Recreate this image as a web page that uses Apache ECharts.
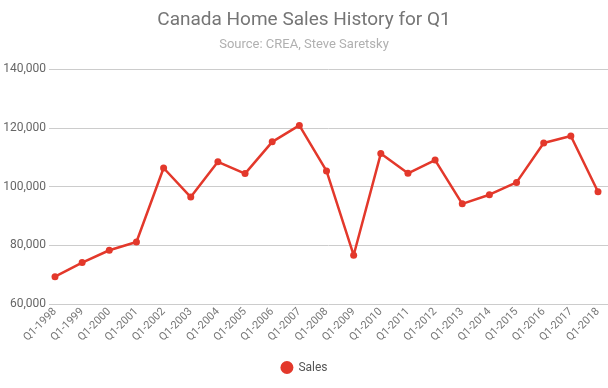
<!DOCTYPE html>
<html>
<head>
<meta charset="utf-8">
<script src="https://cdn.jsdelivr.net/npm/echarts@6/dist/echarts.min.js"></script>
<style>html,body{margin:0;padding:0;background:#fff}#c{width:608px;height:388px}</style>
</head>
<body>
<div id="c"></div>
<script>
const categories = ['Q1-1998','Q1-1999','Q1-2000','Q1-2001','Q1-2002','Q1-2003','Q1-2004','Q1-2005','Q1-2006','Q1-2007','Q1-2008','Q1-2009','Q1-2010','Q1-2011','Q1-2012','Q1-2013','Q1-2014','Q1-2015','Q1-2016','Q1-2017','Q1-2018'];
const sales = [69300,74100,78300,81100,106300,96400,108400,104400,115200,120800,105300,76600,111200,104500,109000,94100,97200,101400,114800,117200,98200];
const yTicks = [60000,80000,100000,120000,140000];

const chart = echarts.init(document.getElementById('c'));
const yMin = yTicks[0], yMax = yTicks[yTicks.length-1];
chart.setOption({
  animation:false,
  title:{
    text:'Canada Home Sales History for Q1',
    subtext:'Source: CREA, Steve Saretsky',
    left:'center', top:6, itemGap:8,
    textStyle:{fontFamily:'Roboto',fontSize:19,fontWeight:'normal',color:'#757575'},
    subtextStyle:{fontFamily:'Roboto',fontSize:13,color:'#b0b0b0'}
  },
  legend:{
    bottom:9, left:'center', icon:'circle', itemWidth:13, itemHeight:13,
    textStyle:{fontFamily:'Roboto',fontSize:12,color:'#555'},
    data:['Sales']
  },
  grid:[
    {left:49,right:0,top:69,bottom:84},
    {left:55,right:10,top:69,bottom:84}
  ],
  xAxis:[
    {gridIndex:0,type:'value',show:false,min:0,max:1},
    {
      gridIndex:1,type:'category', data:categories, boundaryGap:false,
      axisLine:{show:false}, axisTick:{show:false},
      axisLabel:{rotate:45,fontFamily:'Roboto',fontSize:11,color:'#777',margin:6,interval:0}
    }
  ],
  yAxis:[
    {
      gridIndex:0,type:'value', min:yMin, max:yMax, interval:20000,
      axisLine:{show:false}, axisTick:{show:false},
      axisLabel:{fontFamily:'Roboto',fontSize:12,color:'#666',margin:3,
        formatter:v=>v.toLocaleString('en-US')},
      splitLine:{lineStyle:{color:'#cccccc',width:1}}
    },
    {
      gridIndex:1,type:'value', min:yMin, max:yMax, interval:20000,
      axisLine:{show:false}, axisTick:{show:false}, axisLabel:{show:false},
      splitLine:{show:false}
    }
  ],
  series:[{
    name:'Sales', type:'line', data:sales, xAxisIndex:1, yAxisIndex:1,
    symbol:'circle', symbolSize:7,
    itemStyle:{color:'#e3382b'},
    lineStyle:{color:'#e3382b',width:2.5}
  }]
});
</script>
</body>
</html>
